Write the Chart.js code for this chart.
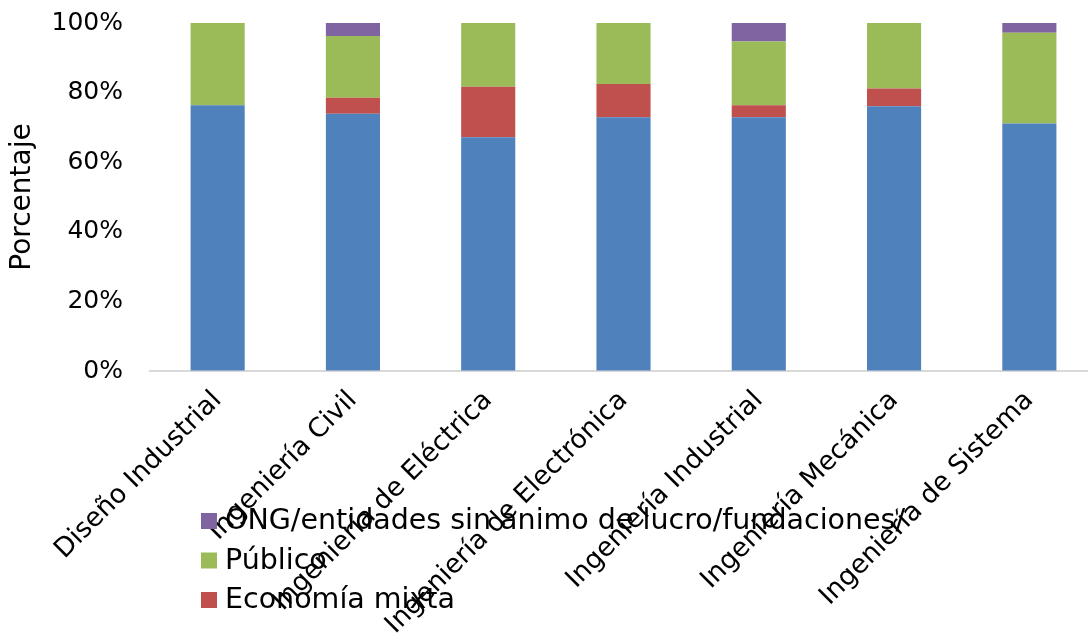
<!DOCTYPE html>
<html>
<head>
<meta charset="utf-8">
<script src="https://cdn.jsdelivr.net/npm/chart.js@4/dist/chart.umd.min.js"></script>
<style>
  html, body { margin: 0; padding: 0; background: #fff; overflow: hidden; }
  #wrap { width: 1100px; height: 634px; }
</style>
</head>
<body>
<div id="wrap"><canvas id="myChart" width="1100" height="634"></canvas></div>
<script>
// datos (porcentajes)
const carreras = [
  "Diseño Industrial",
  "Ingeniería Civil",
  "Ingeniería de Eléctrica",
  "Ingeniería de Electrónica",
  "Ingeniería Industrial",
  "Ingeniería Mecánica",
  "Ingeniería de Sistema"
];
const privado = [76.4, 73.9, 67.2, 72.9, 72.9, 76.1, 71.1];
const economiaMixta = [0, 4.6, 14.5, 9.6, 3.5, 5.1, 0];
const publico = [23.6, 17.8, 18.3, 17.5, 18.3, 18.8, 26.1];
const ong = [0, 3.7, 0, 0, 5.3, 0, 2.8];
const yTicks = [0, 20, 40, 60, 80, 100];

const FONT = "'DejaVu Sans', sans-serif";

// leyenda dibujada encima (como en el original, se solapa con las etiquetas)
// el primer item (Privado) queda fuera del recorte en el original
const legendOverlay = {
  id: "legendOverlay",
  afterDraw(chart) {
    const ctx = chart.ctx;
    const ds = chart.data.datasets.slice(1).reverse();
    ctx.save();
    ctx.font = "28.5px " + FONT;
    ctx.textBaseline = "middle";
    ds.forEach((d, i) => {
      const y = 521 + i * 39.5;
      ctx.fillStyle = d.backgroundColor;
      ctx.fillRect(201, y - 8, 16, 16);
      ctx.fillStyle = "#000";
      ctx.fillText(d.label, 225, y + 1);
    });
    ctx.restore();
  }
};

const ctx = document.getElementById("myChart").getContext("2d");
const myChart = new Chart(ctx, {
  type: "bar",
  data: {
    labels: carreras,
    datasets: [
      { label: "Privado", data: privado, backgroundColor: "#4f81bd" },
      { label: "Economía mixta", data: economiaMixta, backgroundColor: "#c0504d" },
      { label: "Público", data: publico, backgroundColor: "#9bbb59" },
      { label: "ONG/entidades sin ánimo de lucro/fundaciones/", data: ong, backgroundColor: "#8064a2" }
    ]
  },
  options: {
    responsive: false,
    animation: false,
    datasets: {
      bar: {
        categoryPercentage: 1,
        barPercentage: 0.4,
        borderWidth: 0
      }
    },
    layout: { padding: { top: 0, right: 3, left: 0, bottom: 0 } },
    plugins: {
      legend: { display: false },
      tooltip: { enabled: false }
    },
    scales: {
      x: {
        stacked: true,
        grid: { display: false, drawTicks: false },
        border: { display: true, color: "#d9d9d9", width: 2 },
        ticks: {
          color: "#000",
          font: { family: FONT, size: 26.5 },
          minRotation: 45,
          maxRotation: 45,
          autoSkip: false,
          padding: 14
        },
        afterFit(scale) { scale.height = 263; }
      },
      y: {
        stacked: true,
        min: 0,
        max: 100,
        // marcas invisibles para separar las etiquetas del eje sin inflar el margen superior
        grid: { display: true, drawOnChartArea: false, drawTicks: true, tickLength: 19, color: "rgba(0,0,0,0)" },
        border: { display: false },
        afterBuildTicks(scale) { scale.ticks = yTicks.map(v => ({ value: v })); },
        ticks: {
          color: "#000",
          font: { family: FONT, size: 25 },
          padding: 8,
          callback: v => v + "%"
        },
        title: {
          display: true,
          text: "Porcentaje",
          color: "#000",
          font: { family: FONT, size: 28 },
          padding: { top: 6 }
        },
        afterFit(scale) { scale.width = 150; }
      }
    }
  },
  plugins: [legendOverlay]
});
</script>
</body>
</html>
